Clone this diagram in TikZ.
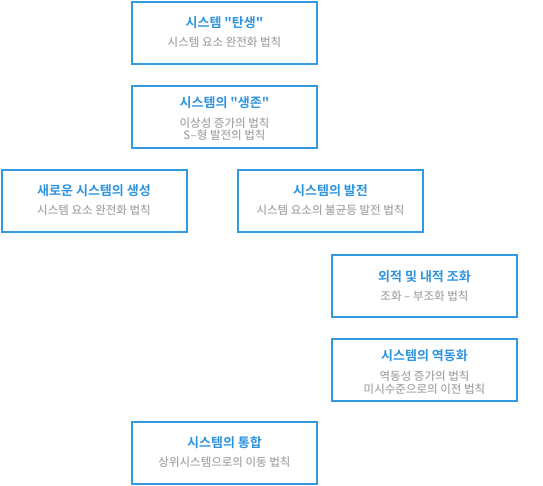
\documentclass[tikz,border=0pt]{standalone}
\usepackage{fontspec}
\newfontfamily\kr{Noto Sans CJK KR}[BoldFont={Noto Sans CJK KR Bold}]
\newfontfamily\krmed{Noto Sans CJK KR Medium}
\usepackage{xcolor}
\usetikzlibrary{positioning}
\definecolor{boxblue}{HTML}{3399E0}
\definecolor{headblue}{HTML}{2E93DE}
\definecolor{lawgrey}{HTML}{A6A6A6}
\tikzset{
  stage/.style={draw=boxblue,line width=2pt,minimum width=185pt,minimum height=62pt,inner sep=0pt},
  head/.style={anchor=base,inner sep=0pt,text=headblue,font=\kr\bfseries\fontsize{13}{15}\selectfont},
  law/.style={anchor=base,inner sep=0pt,text=lawgrey,font=\krmed\fontsize{11.5}{13}\selectfont}
}

\begin{document}
\begin{tikzpicture}[x=1pt,y=-1pt]
      \useasboundingbox (0,0) rectangle (543,486);

      \node[stage] at (224.5,33) (birth) {};
      \node[head] at (224.5,27.5) (birthT) {시스템 "탄생"};
      \node[law] at (224.5,46.5) (birthL) {시스템 요소 완전화 법칙};

      \node[stage] at (224.5,117) (survive) {};
      \node[head] at (224.5,107.5) (surviveT) {시스템의 "생존"};
      \node[law] at (224.5,127.5) (surviveL) {이상성 증가의 법칙};
      \node[law] at (224.5,140) (surviveM) {S–형 발전의 법칙};

      \node[stage] at (94,201) (newsys) {};
      \node[head] at (94,196) (newsysT) {새로운 시스템의 생성};
      \node[law] at (94,215) (newsysL) {시스템 요소 완전화 법칙};

      \node[stage] at (330.5,201) (grow) {};
      \node[head] at (330.5,196) (growT) {시스템의 발전};
      \node[law] at (330.5,215) (growL) {시스템 요소의 불균등 발전 법칙};

      \node[stage] at (424.5,286) (harmony) {};
      \node[head] at (424.5,281) (harmonyT) {외적 및 내적 조화};
      \node[law] at (424.5,300) (harmonyL) {조화 – 부조화 법칙};

      \node[stage] at (424.5,370) (dynamic) {};
      \node[head] at (424.5,360.5) (dynamicT) {시스템의 역동화};
      \node[law] at (424.5,380.5) (dynamicL) {역동성 증가의 법칙};
      \node[law] at (424.5,393) (dynamicM) {미시수준으로의 이전 법칙};

      \node[stage] at (224.5,452.5) (merge) {};
      \node[head] at (224.5,447) (mergeT) {시스템의 통합};
      \node[law] at (224.5,466) (mergeL) {상위시스템으로의 이동 법칙};
    \end{tikzpicture}
\end{document}
